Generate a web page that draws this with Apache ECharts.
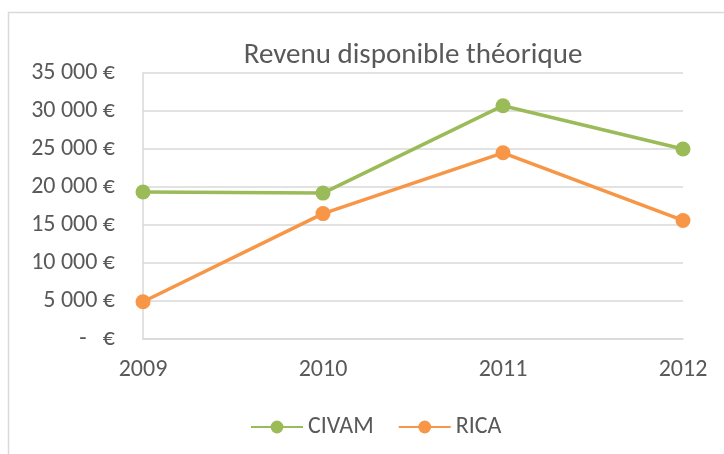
<!DOCTYPE html>
<html>
<head>
<meta charset="utf-8">
<script src="https://cdn.jsdelivr.net/npm/echarts@6/dist/echarts.min.js"></script>
<style>
html,body{margin:0;padding:0;background:#fff;}
#chart{width:724px;height:454px;}
</style>
</head>
<body>
<div id="chart"></div>
<script>
const years = ['2009', '2010', '2011', '2012'];
const civam = [19350, 19200, 30700, 25000];
const rica = [4900, 16500, 24500, 15600];
const yTicks = [0, 5000, 10000, 15000, 20000, 25000, 30000, 35000];

const FONT = 'Carlito, "Liberation Sans Narrow", "Open Sans", sans-serif';
const chart = echarts.init(document.getElementById('chart'));
function fmt(v) {
  if (v === 0) return '-   €';
  return String(v).replace(/\B(?=(\d{3})+(?!\d))/g, ' ') + ' €';
}
chart.setOption({
  animation: false,
  backgroundColor: '#fff',
  graphic: [{
    type: 'rect',
    shape: { x: 8.5, y: 12.5, width: 760, height: 500 },
    style: { fill: 'none', stroke: '#d9d9d9', lineWidth: 1.5 },
    silent: true
  }],
  title: {
    text: 'Revenu disponible théorique',
    left: 408, top: 36, textAlign: 'center',
    textStyle: { fontFamily: FONT, fontSize: 29, fontWeight: 'normal', color: '#595959' }
  },
  legend: {
    data: ['CIVAM', 'RICA'],
    left: 245, top: 410,
    itemWidth: 52, itemHeight: 16, itemGap: 24,
    textStyle: { fontFamily: FONT, fontSize: 24, color: '#595959' }
  },
  grid: { left: 143, right: 41, top: 73, bottom: 115 },
  xAxis: {
    type: 'category', data: years, boundaryGap: false,
    axisLine: { lineStyle: { color: '#d9d9d9', width: 1.5 } },
    axisTick: { show: false },
    axisLabel: { fontFamily: FONT, fontSize: 24, color: '#595959', margin: 19 }
  },
  yAxis: {
    type: 'value', min: yTicks[0], max: yTicks[yTicks.length - 1], interval: 5000,
    axisLine: { show: true, lineStyle: { color: '#d9d9d9', width: 1.5 } },
    axisTick: { show: false },
    splitLine: { lineStyle: { color: '#d9d9d9', width: 1.5 } },
    axisLabel: { fontFamily: FONT, fontSize: 24, color: '#595959', margin: 28, formatter: fmt }
  },
  series: [
    { name: 'CIVAM', type: 'line', data: civam, color: '#9bbb59',
      symbol: 'circle', symbolSize: 15, lineStyle: { width: 3.5 } },
    { name: 'RICA', type: 'line', data: rica, color: '#f79646',
      symbol: 'circle', symbolSize: 15, lineStyle: { width: 3.5 } }
  ]
});
</script>
</body>
</html>
